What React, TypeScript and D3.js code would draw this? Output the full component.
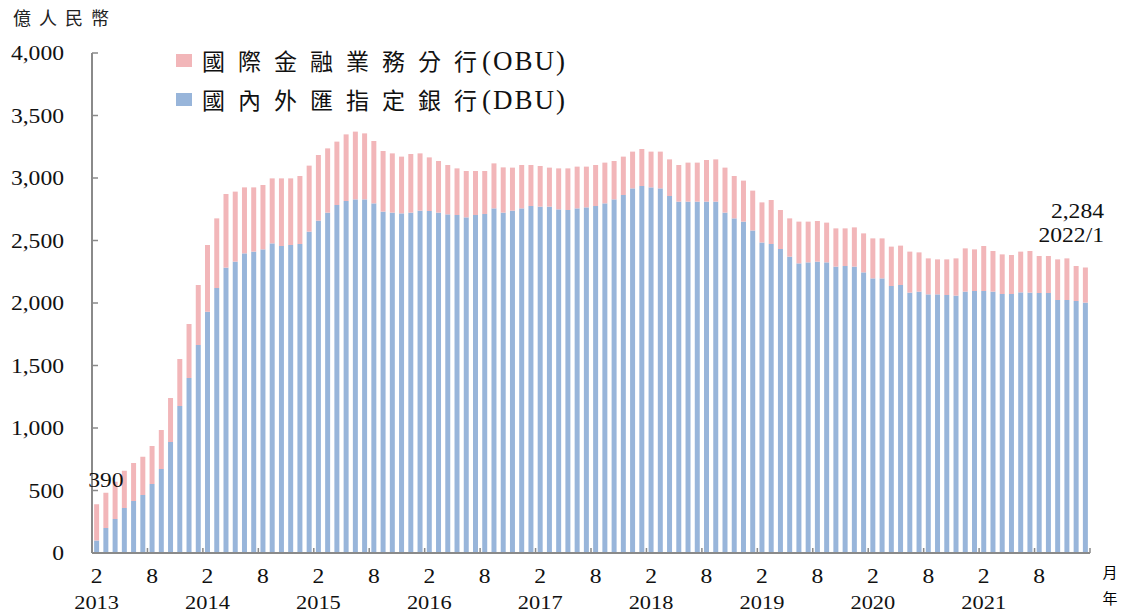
import React, { useEffect, useRef } from 'react'
import * as d3 from 'd3'

// 2013/2 ~ 2022/1, monthly, 億人民幣
const years = ['2013', '2014', '2015', '2016', '2017', '2018', '2019', '2020', '2021']
const tickMonths = ['2', '8']

// 國內外匯指定銀行(DBU)
const dbu = [
  100, 200, 272, 360, 416, 464, 552, 672, 888, 1176, 1400,
  1664, 1930, 2120, 2283, 2331, 2397, 2411, 2429, 2477, 2456, 2464, 2472,
  2571, 2659, 2723, 2784, 2816, 2829, 2829, 2797, 2731, 2723, 2717, 2723,
  2739, 2736, 2723, 2709, 2704, 2685, 2704, 2712, 2757, 2723, 2739, 2757,
  2776, 2771, 2771, 2749, 2744, 2757, 2765, 2776, 2797, 2829, 2864, 2917,
  2936, 2925, 2917, 2856, 2811, 2811, 2811, 2811, 2811, 2723, 2677, 2651,
  2580, 2484, 2472, 2432, 2371, 2317, 2325, 2331, 2325, 2291, 2296, 2291,
  2245, 2197, 2197, 2136, 2144, 2083, 2091, 2069, 2069, 2064, 2059, 2091,
  2096, 2096, 2091, 2072, 2072, 2085, 2083, 2080, 2080, 2024, 2024, 2016,
  2003
]

// 國際金融業務分行(OBU)
const obu = [
  290, 282, 298, 298, 304, 306, 304, 312, 352, 376, 432,
  480, 534, 557, 589, 560, 528, 514, 515, 520, 541, 533, 544,
  528, 525, 514, 507, 533, 542, 528, 499, 485, 474, 454, 469,
  458, 429, 413, 395, 373, 371, 352, 344, 360, 362, 344, 347,
  328, 325, 312, 328, 333, 334, 326, 328, 326, 307, 307, 294,
  296, 286, 294, 293, 293, 312, 312, 333, 338, 360, 339, 328,
  319, 321, 352, 312, 306, 334, 326, 325, 318, 306, 301, 314,
  312, 320, 320, 315, 315, 328, 314, 288, 280, 285, 298, 346,
  333, 360, 325, 317, 312, 326, 333, 296, 296, 325, 333, 280,
  281
]

const months: string[] = []
for (let y = 2013; y <= 2022; y++) {
  for (let m = 1; m <= 12; m++) {
    if ((y === 2013 && m < 2) || (y === 2022 && m > 1)) continue
    months.push(`${y}/${m}`)
  }
}

const SERIF = '"Liberation Serif", "Noto Sans CJK TC", serif'
const CJK = '"Noto Sans CJK TC", sans-serif'
const PINK = '#f2b6b9'
const BLUE = '#98b5da'
const AXIS = '#8a8a8a'

export default function App() {
  const svgRef = useRef<SVGSVGElement>(null)

  useEffect(() => {
    const width = 1128
    const height = 615
    const left = 92, right = 1090, top = 53, bottom = 553

    const svg = d3.select(svgRef.current)
    svg.selectAll('*').remove()
    svg.attr('width', width).attr('height', height)

    const x = d3.scaleBand<string>().domain(months).range([left, right]).paddingInner(0.46).paddingOuter(0.23)
    const y = d3.scaleLinear().domain([0, 4000]).range([bottom, top])
    const step = x.step()
    const bw = x.bandwidth()

    // stretched serif text, like the original picture
    const txt = (str: string, tx: number, ty: number, anchor = 'middle', size = 20, sx = 1.18) =>
      svg.append('g').attr('transform', `translate(${tx},${ty}) scale(${sx},1)`)
        .append('text').attr('text-anchor', anchor).attr('font-size', size)
        .attr('font-family', SERIF).attr('fill', '#111').text(str)

    const rows = months.map((m, i) => ({ m, dbu: dbu[i], obu: obu[i] }))
    const stack = d3.stack<any>().keys(['dbu', 'obu'])(rows)
    const colors: Record<string, string> = { dbu: BLUE, obu: PINK }

    svg.append('g').selectAll('g').data(stack).join('g')
      .attr('fill', d => colors[d.key])
      .selectAll('rect').data(d => d).join('rect')
      .attr('x', d => x(d.data.m)!)
      .attr('width', bw)
      .attr('y', d => y(d[1]))
      .attr('height', d => y(d[0]) - y(d[1]))

    // axes
    svg.append('line').attr('x1', left).attr('x2', left).attr('y1', top).attr('y2', bottom)
      .attr('stroke', AXIS).attr('stroke-width', 2)
    svg.append('line').attr('x1', left).attr('x2', right).attr('y1', bottom).attr('y2', bottom)
      .attr('stroke', AXIS).attr('stroke-width', 2)

    const yTicks = d3.range(0, 4001, 500)
    yTicks.forEach(v => {
      svg.append('line').attr('x1', left).attr('x2', left + 6).attr('y1', y(v)).attr('y2', y(v))
        .attr('stroke', AXIS).attr('stroke-width', 1.5)
      txt(d3.format(',')(v), 64, y(v) + 7, 'end')
    })

    // x ticks every 6 months at band edges
    months.forEach((m, i) => {
      if (i % 6 !== 0) return
      const ex = x(m)! - (step - bw) / 2
      svg.append('line').attr('x1', ex).attr('x2', ex).attr('y1', bottom).attr('y2', bottom - 5)
        .attr('stroke', AXIS).attr('stroke-width', 1.5)
      const cx = x(m)! + bw / 2
      txt(tickMonths[(i / 6) % 2], cx, 583)
      if (i % 12 === 0) txt(years[i / 12], cx, 609, 'middle', 19)
    })
    svg.append('line').attr('x1', right).attr('x2', right).attr('y1', bottom).attr('y2', bottom - 5)
      .attr('stroke', AXIS).attr('stroke-width', 1.5)

    svg.append('text').attr('x', 1110).attr('y', 578).attr('text-anchor', 'middle')
      .attr('font-family', CJK).attr('font-size', 15).text('月')
    svg.append('text').attr('x', 1110).attr('y', 604).attr('text-anchor', 'middle')
      .attr('font-family', CJK).attr('font-size', 15).text('年')

    // unit label
    svg.append('text').attr('x', 13).attr('y', 25).attr('font-family', CJK)
      .attr('font-size', 18).attr('letter-spacing', 8).attr('fill', '#222').text('億人民幣')

    // annotations
    const first = months[0], last = months[months.length - 1]
    txt(d3.format(',')(dbu[0] + obu[0]), x(first)! - 6, 487, 'start')
    txt(d3.format(',')(dbu[dbu.length - 1] + obu[obu.length - 1]), 1104, 218, 'end')
    txt(last, 1104, 242, 'end')

    // legend
    const legend = [
      { name: '國際金融業務分行', abbr: '(OBU)', color: PINK },
      { name: '國內外匯指定銀行', abbr: '(DBU)', color: BLUE },
    ]
    legend.forEach((d, i) => {
      const ly = 61 + i * 39
      svg.append('rect').attr('x', 176).attr('y', ly - 7).attr('width', 16).attr('height', 13).attr('fill', d.color)
      const t = svg.append('text').attr('x', 202).attr('y', ly + 9).attr('fill', '#111')
      t.append('tspan').attr('font-family', CJK).attr('font-size', 23).attr('letter-spacing', 13).text(d.name)
      t.append('tspan').attr('font-family', SERIF).attr('font-size', 27).attr('letter-spacing', 2)
        .attr('dx', -8).text(d.abbr)
    })
  }, [])

  return (
    <div style={{ position: 'absolute', left: 0, top: 0, background: '#fff' }}>
      <svg ref={svgRef}></svg>
    </div>
  )
}
